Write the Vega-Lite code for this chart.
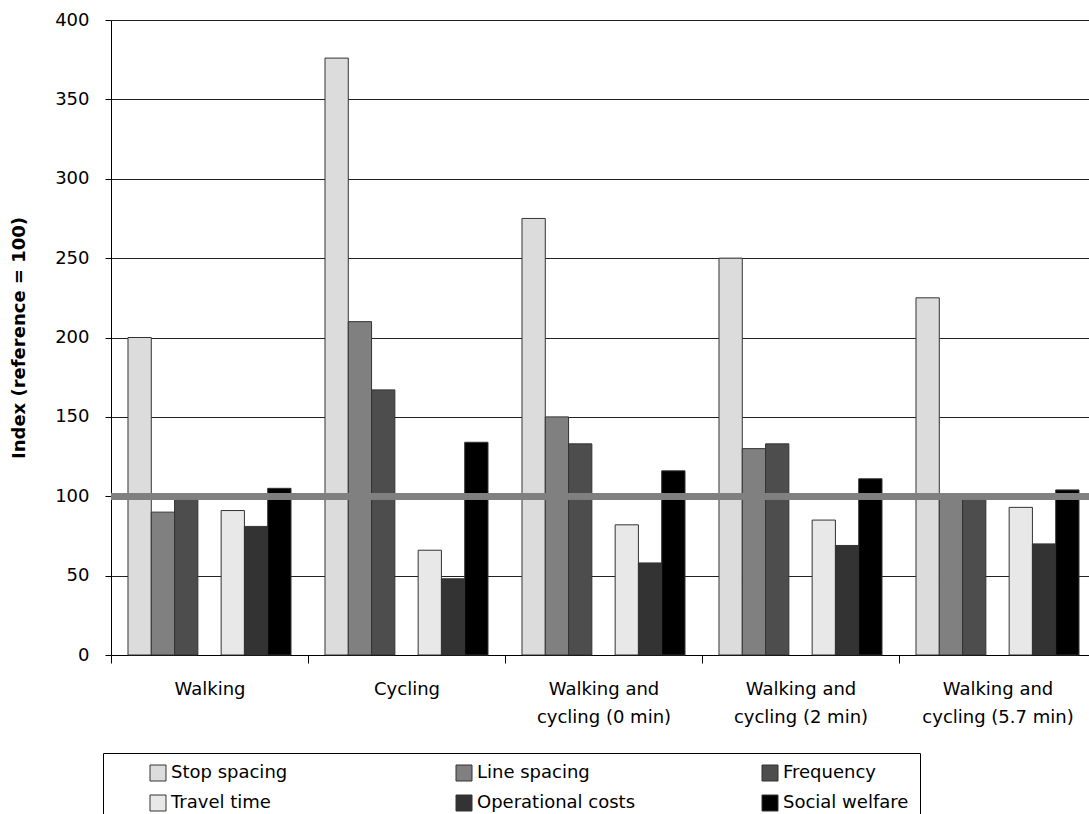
{
  "$schema": "https://vega.github.io/schema/vega-lite/v6.json",
  "autosize": {"type": "none"},
  "padding": {"left": 111, "top": 20, "right": 0, "bottom": 159},
  "width": 985,
  "height": 635,
  "background": "white",
  "config": {
    "view": {"stroke": null},
    "font": "DejaVu Sans"
  },
  "data": {
    "values": [
      {"scenario": "Walking", "variable": "Stop spacing", "index": 200},
      {"scenario": "Walking", "variable": "Line spacing", "index": 90},
      {"scenario": "Walking", "variable": "Frequency", "index": 100},
      {"scenario": "Walking", "variable": "Travel time", "index": 91},
      {"scenario": "Walking", "variable": "Operational costs", "index": 81},
      {"scenario": "Walking", "variable": "Social welfare", "index": 105},
      {"scenario": "Cycling", "variable": "Stop spacing", "index": 376},
      {"scenario": "Cycling", "variable": "Line spacing", "index": 210},
      {"scenario": "Cycling", "variable": "Frequency", "index": 167},
      {"scenario": "Cycling", "variable": "Travel time", "index": 66},
      {"scenario": "Cycling", "variable": "Operational costs", "index": 48},
      {"scenario": "Cycling", "variable": "Social welfare", "index": 134},
      {"scenario": "Walking and cycling (0 min)", "variable": "Stop spacing", "index": 275},
      {"scenario": "Walking and cycling (0 min)", "variable": "Line spacing", "index": 150},
      {"scenario": "Walking and cycling (0 min)", "variable": "Frequency", "index": 133},
      {"scenario": "Walking and cycling (0 min)", "variable": "Travel time", "index": 82},
      {"scenario": "Walking and cycling (0 min)", "variable": "Operational costs", "index": 58},
      {"scenario": "Walking and cycling (0 min)", "variable": "Social welfare", "index": 116},
      {"scenario": "Walking and cycling (2 min)", "variable": "Stop spacing", "index": 250},
      {"scenario": "Walking and cycling (2 min)", "variable": "Line spacing", "index": 130},
      {"scenario": "Walking and cycling (2 min)", "variable": "Frequency", "index": 133},
      {"scenario": "Walking and cycling (2 min)", "variable": "Travel time", "index": 85},
      {"scenario": "Walking and cycling (2 min)", "variable": "Operational costs", "index": 69},
      {"scenario": "Walking and cycling (2 min)", "variable": "Social welfare", "index": 111},
      {"scenario": "Walking and cycling (5.7 min)", "variable": "Stop spacing", "index": 225},
      {"scenario": "Walking and cycling (5.7 min)", "variable": "Line spacing", "index": 100},
      {"scenario": "Walking and cycling (5.7 min)", "variable": "Frequency", "index": 100},
      {"scenario": "Walking and cycling (5.7 min)", "variable": "Travel time", "index": 93},
      {"scenario": "Walking and cycling (5.7 min)", "variable": "Operational costs", "index": 70},
      {"scenario": "Walking and cycling (5.7 min)", "variable": "Social welfare", "index": 104}
    ]
  },
  "layer": [
    {
      "mark": {"type": "bar", "stroke": "#333333", "strokeWidth": 1},
      "encoding": {
        "x": {
          "field": "scenario",
          "type": "nominal",
          "sort": ["Walking", "Cycling", "Walking and cycling (0 min)", "Walking and cycling (2 min)", "Walking and cycling (5.7 min)"],
          "scale": {"paddingInner": 0, "paddingOuter": 0},
          "axis": {
            "title": null,
            "labelAngle": 0,
            "tickBand": "extent",
            "domainColor": "black",
            "tickColor": "black",
            "tickSize": 8,
            "labelFontSize": 18,
            "labelColor": "black",
            "labelPadding": 17,
            "labelLineHeight": 28,
            "labelBaseline": "top",
            "labelLimit": 300,
            "labelExpr": "!isString(datum.value) ? '' : (datum.value == 'Walking' || datum.value == 'Cycling' ? datum.value : ['Walking and', replace(datum.value, 'Walking and ', '')])"
          }
        },
        "xOffset": {
          "field": "variable",
          "type": "nominal",
          "scale": {
            "domain": ["Stop spacing", "Line spacing", "Frequency", "gap", "Travel time", "Operational costs", "Social welfare"],
            "paddingInner": 0,
            "paddingOuter": 0.73
          }
        },
        "y": {
          "field": "index",
          "type": "quantitative",
          "scale": {"domain": [0, 400]},
          "axis": {
            "title": "Index (reference = 100)",
            "titleFontSize": 18,
            "titleFontWeight": "bold",
            "titleColor": "black",
            "titlePadding": 26,
            "values": [0, 50, 100, 150, 200, 250, 300, 350, 400],
            "grid": true,
            "gridColor": "#222222",
            "gridWidth": 1,
            "domainColor": "black",
            "tickColor": "black",
            "tickSize": 6,
            "labelFontSize": 18,
            "labelColor": "black",
            "labelPadding": 16
          }
        },
        "color": {
          "field": "variable",
          "type": "nominal",
          "scale": {
            "domain": ["Stop spacing", "Line spacing", "Frequency", "Travel time", "Operational costs", "Social welfare"],
            "range": ["#dcdcdc", "#808080", "#4d4d4d", "#e8e8e8", "#333333", "#000000"]
          },
          "legend": {
            "title": null,
            "orient": "none",
            "legendX": -8,
            "legendY": 733,
            "direction": "horizontal",
            "columns": 3,
            "gridAlign": "all",
            "columnPadding": 90,
            "rowPadding": 10,
            "padding": 11,
            "strokeColor": "black",
            "fillColor": "white",
            "symbolType": "square",
            "symbolSize": 256,
            "symbolStrokeColor": "#333333",
            "symbolStrokeWidth": 1,
            "symbolOffset": 35,
            "labelFontSize": 18,
            "labelColor": "black",
            "labelOffset": 4,
            "labelLimit": 300
          }
        }
      }
    },
    {
      "mark": {"type": "rule", "color": "#808080", "strokeWidth": 6},
      "encoding": {"y": {"datum": 100, "type": "quantitative"}}
    }
  ]
}
